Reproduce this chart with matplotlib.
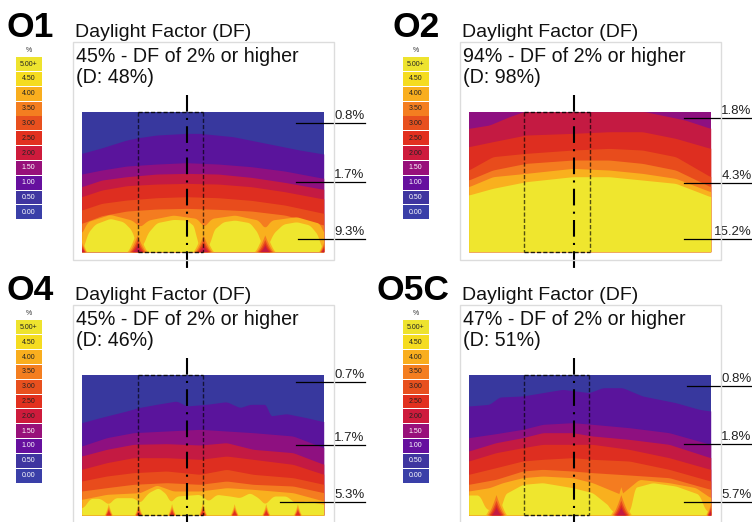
import numpy as np
import matplotlib
matplotlib.use("Agg")
import matplotlib.pyplot as plt
from matplotlib.patches import Rectangle

plt.rcParams['font.family'] = ['Liberation Sans', 'DejaVu Sans']

W, H = 752, 522

# ---- legend ----
LEGEND_LABELS = ["5.00+", "4.50", "4.00", "3.50", "3.00", "2.50", "2.00", "1.50", "1.00", "0.50", "0.00"]
LEGEND_COLORS = ["#EEE32E", "#F5DC20", "#F9AE1E", "#F47E20", "#E8501E", "#E2301F", "#CE1B3C",
                 "#98107A", "#66109E", "#3F35A0", "#3A3FA8"]

# ---- band colours, low to high ----
BLUE, INDIGO, MAGENTA, CRIMSON, RED, ORANGE_RED, ORANGE, AMBER, YELLOW = (
    "#38389E", "#5A149C", "#8E1080", "#C41A42", "#DE2E20", "#E84C1C", "#F47C20", "#F9B01E", "#EFE62E")

# ---- band upper limits: horizontal station, depth from the top of the plan ----
O1_X = [0, 60, 135, 225, 315, 410, 510, 610, 727]
O1_INDIGO_X = [0, 55, 135, 170, 225, 315, 355, 455, 555, 655, 727]
O1_INDIGO = [125, 110, 85, 78, 70, 65, 65, 75, 95, 115, 127]
O1_MAGENTA = [187, 175, 163, 157, 153, 157, 165, 178, 200]
O1_CRIMSON = [225, 205, 195, 187, 185, 187, 197, 212, 233]
O1_RED = [255, 235, 222, 217, 215, 217, 225, 240, 262]
O1_ORANGE_RED = [295, 275, 265, 258, 255, 258, 266, 280, 305]
O1_ORANGE = [335, 312, 298, 292, 290, 293, 298, 310, 340]
O1_AMBER_X = [0, 17, 85, 150, 175, 200, 275, 345, 367, 390, 460, 530, 550, 570, 645, 715, 727]
O1_AMBER = [365, 330, 308, 325, 345, 325, 310, 320, 345, 320, 310, 325, 350, 325, 315, 335, 365]
O1_YELLOW_X = [5, 17, 40, 85, 125, 150, 165, 185, 197, 225, 275, 315, 340, 347, 385, 395, 425, 460,
               505, 530, 540, 560, 575, 605, 645, 685, 710, 720]
O1_YELLOW = [410, 365, 337, 320, 330, 355, 400, 400, 365, 333, 323, 325, 345, 400, 400, 355, 330, 325,
             333, 365, 400, 400, 365, 337, 330, 340, 370, 410]
O1_NOTCH_X = [167, 365, 550, 0, 727]
O1_NOTCH_HALF = [32, 32, 32, 16, 16]
O1_NOTCH_DEPTH = [70, 70, 70, 40, 40]

O2_X = [0, 72, 172, 312, 422, 522, 622, 726]
O2_CRIMSON_X = [0, 62, 122, 165, 530, 650, 726]
O2_CRIMSON = [50, 40, 15, 0, 0, 25, 50]
O2_RED = [105, 90, 70, 65, 60, 60, 80, 110]
O2_ORANGE_RED = [175, 135, 125, 115, 110, 115, 135, 195]
O2_ORANGE = [205, 175, 155, 145, 145, 155, 175, 225]
O2_AMBER = [225, 195, 185, 170, 175, 185, 200, 240]
O2_YELLOW = [250, 230, 210, 195, 195, 205, 215, 255]

O4_X = [0, 75, 155, 255, 355, 435, 515, 635, 727]
O4_INDIGO_X = [0, 55, 135, 170, 225, 285, 315, 375, 435, 475, 505, 555, 565, 615, 675, 727]
O4_INDIGO = [143, 128, 108, 98, 88, 78, 93, 88, 80, 98, 88, 88, 123, 116, 128, 140]
O4_MAGENTA = [213, 188, 173, 168, 163, 168, 173, 183, 218]
O4_CRIMSON = [243, 223, 208, 206, 210, 203, 223, 233, 268]
O4_RED = [283, 263, 248, 248, 253, 243, 253, 268, 298]
O4_ORANGE_RED = [318, 303, 293, 288, 298, 283, 298, 308, 328]
O4_ORANGE = [348, 338, 328, 323, 328, 318, 328, 333, 353]
O4_AMBER_X = [0, 75, 175, 225, 275, 355, 435, 515, 635, 727]
O4_AMBER = [373, 358, 353, 330, 348, 348, 338, 343, 353, 378]
O4_YELLOW_X = [5, 25, 55, 80, 100, 155, 175, 200, 230, 255, 265, 285, 355, 380, 405, 445, 475, 505,
               530, 550, 575, 615, 640, 675, 727]
O4_YELLOW = [398, 370, 370, 388, 368, 368, 383, 353, 338, 358, 383, 363, 358, 378, 358, 363, 368, 353,
             368, 388, 363, 363, 383, 378, 388]
O4_NOTCH_X = [80, 170, 270, 363, 458, 553, 648]
O4_NOTCH_HALF = [13, 13, 13, 13, 13, 13, 13]
O4_NOTCH_DEPTH = [34, 34, 34, 40, 34, 34, 34]

O5_X = [0, 82, 162, 222, 312, 372, 482, 602, 726]
O5_INDIGO_X = [0, 62, 92, 162, 222, 282, 362, 402, 462, 522, 622, 692, 726]
O5_INDIGO = [93, 88, 66, 63, 53, 43, 53, 38, 38, 63, 83, 103, 108]
O5_MAGENTA = [188, 176, 163, 148, 143, 148, 158, 173, 208]
O5_CRIMSON = [228, 203, 188, 173, 173, 183, 193, 208, 248]
O5_RED = [258, 233, 218, 208, 208, 208, 223, 248, 283]
O5_ORANGE_RED = [298, 278, 258, 253, 248, 253, 258, 283, 318]
O5_ORANGE = [328, 313, 288, 283, 288, 293, 300, 308, 343]
O5_AMBER_X = [0, 62, 102, 162, 222, 312, 372, 457, 512, 602, 682, 726]
O5_AMBER = [348, 338, 323, 308, 303, 308, 323, 358, 313, 323, 338, 368]
O5_YELLOW_X = [0, 32, 52, 97, 107, 162, 222, 312, 372, 422, 427, 487, 497, 552, 622, 692, 712, 726]
O5_YELLOW = [360, 360, 403, 403, 358, 328, 323, 338, 353, 393, 408, 408, 338, 323, 333, 358, 408, 408]
O5_NOTCH_X = [82, 457, 726]
O5_NOTCH_HALF = [33, 33, 15]
O5_NOTCH_DEPTH = [85, 85, 45]

# ---- texts ----
O1_VALUES = ["0.8%", "1.7%", "9.3%"]
O2_VALUES = ["1.8%", "4.3%", "15.2%"]
O4_VALUES = ["0.7%", "1.7%", "5.3%"]
O5_VALUES = ["0.8%", "1.8%", "5.7%"]

PLAN_W, PLAN_D = 727, 420


def fx(px):
    return px / W


def fy(py):
    return 1 - py / H


fig = plt.figure(figsize=(W / 100, H / 100), dpi=100, facecolor="white")
XF = np.linspace(0, PLAN_W, 1455)


def band(ax, xs, depths, color):
    curve = np.interp(XF, xs, depths)
    k = 15
    padded = np.pad(curve, k, mode="edge")
    curve = np.convolve(padded, np.ones(2 * k + 1) / (2 * k + 1), mode="same")[k:-k]
    ax.fill_between(XF, curve, PLAN_D, color=color, linewidth=0)


def notches(ax, centers, halves, depths, colors):
    scales = [(1.0, 1.0), (0.85, 0.72), (0.72, 0.52), (0.6, 0.38), (0.46, 0.27)]
    for color, (sw, sd) in zip(colors, scales):
        for c, w, d in zip(centers, halves, depths):
            t = np.clip(1 - np.abs(XF - c) / (w * sw), 0, None) ** 1.4
            ax.fill_between(XF, PLAN_D - d * sd * t, PLAN_D, where=t > 0, color=color, linewidth=0)


def panel(name, name_x, base, top, legend_x, bands, note, values, leaders, frame_bottom,
          pct_line, d_line, window, centre, centre_end):
    y0 = top
    frame_top = y0 - 70
    fig.add_artist(Rectangle((fx(legend_x + 57), fy(frame_bottom)), 261 / W, (frame_bottom - frame_top) / H,
                             transform=fig.transFigure, fill=False, ec="#DCDCDC", lw=1))
    fig.text(fx(name_x), fy(y0 - 75), name, fontsize=25.5, fontweight="bold", color="black", va="baseline")
    tx = legend_x + 59.5
    fig.text(fx(tx), fy(y0 - 75), "Daylight Factor (DF)", fontsize=14.0, color="#111111", va="baseline")
    fig.text(fx(tx + 1), fy(y0 - 50), pct_line, fontsize=14.1, color="#111111", va="baseline")
    fig.text(fx(tx + 1), fy(y0 - 28.5), d_line, fontsize=14.1, color="#111111", va="baseline")

    # legend
    lax = fig.add_axes([fx(legend_x), fy(y0 + 108), 26 / W, 163 / H])
    pos = np.arange(len(LEGEND_LABELS))
    lax.barh(pos, [1] * len(pos), height=0.94, color=LEGEND_COLORS)
    for p, lab, col in zip(pos, LEGEND_LABELS, LEGEND_COLORS):
        lax.text(0.5, p, lab, ha="center", va="center", fontsize=5,
                 color="white" if p >= 7 else "#222222")
    lax.set_xlim(0, 1)
    lax.set_ylim(len(pos) - 0.5, -0.5)
    lax.axis("off")
    fig.text(fx(legend_x + 13), fy(y0 - 61.5), "%", fontsize=5, ha="center", va="center", color="#333333")

    # plan
    ax = fig.add_axes([fx(legend_x + 66), fy(y0 + 140), 242 / W, 140 / H])
    ax.set_xlim(0, PLAN_W)
    ax.set_ylim(PLAN_D, 0)
    ax.axis("off")
    ax.fill_between([0, PLAN_W], 0, PLAN_D, color=base, linewidth=0)
    for xs, ds, col in bands:
        band(ax, xs, ds, col)
    if note is not None:
        notches(ax, *note)

    # window rectangle, centre line, leaders
    ax.plot([window[0], window[1]], [0, 0], color="black", lw=1.0, ls=(0, (3, 1.5)), alpha=0.85, clip_on=False)
    ax.plot([window[0], window[1]], [PLAN_D, PLAN_D], color="black", lw=1.0, ls=(0, (3, 1.5)), alpha=0.85,
            clip_on=False)
    ax.plot([window[0], window[0]], [0, PLAN_D], color="black", lw=1.0, ls=(0, (3, 1.5)), alpha=0.65, clip_on=False)
    ax.plot([window[1], window[1]], [0, PLAN_D], color="black", lw=1.0, ls=(0, (3, 1.5)), alpha=0.65, clip_on=False)
    ax.plot([centre, centre], [-50, centre_end], color="black", lw=1.5,
            ls=(0, (8, 3, 1, 3)), clip_on=False)
    for (lx, d), v in zip(leaders, values):
        ax.plot([lx, 850], [d, d], color="black", lw=0.9, clip_on=False)
        ax.text(850, d - 3, v, ha="right", va="bottom", fontsize=9.5, color="#222222", clip_on=False)


panel("O1", 7, BLUE, 111.7, 15.7,
      [(O1_INDIGO_X, O1_INDIGO, INDIGO), (O1_X, O1_MAGENTA, MAGENTA), (O1_X, O1_CRIMSON, CRIMSON),
       (O1_X, O1_RED, RED), (O1_X, O1_ORANGE_RED, ORANGE_RED), (O1_X, O1_ORANGE, ORANGE),
       (O1_AMBER_X, O1_AMBER, AMBER), (O1_YELLOW_X, O1_YELLOW, YELLOW)],
      (O1_NOTCH_X, O1_NOTCH_HALF, O1_NOTCH_DEPTH, [AMBER, ORANGE, ORANGE_RED, RED, CRIMSON]),
      O1_VALUES, [(645, 33), (645, 210), (650, 383)], 260,
      "45% - DF of 2% or higher", "(D: 48%)", (168, 365), 317, 483)

panel("O2", 393, MAGENTA, 111.7, 402.7,
      [(O2_CRIMSON_X, O2_CRIMSON, CRIMSON), (O2_X, O2_RED, RED), (O2_X, O2_ORANGE_RED, ORANGE_RED),
       (O2_X, O2_ORANGE, ORANGE), (O2_X, O2_AMBER, AMBER), (O2_X, O2_YELLOW, YELLOW)],
      None,
      O2_VALUES, [(647, 20), (647, 213), (647, 383)], 260,
      "94% - DF of 2% or higher", "(D: 98%)", (167, 364), 315, 483)

panel("O4", 7, BLUE, 375, 15.7,
      [(O4_INDIGO_X, O4_INDIGO, INDIGO), (O4_X, O4_MAGENTA, MAGENTA), (O4_X, O4_CRIMSON, CRIMSON),
       (O4_X, O4_RED, RED), (O4_X, O4_ORANGE_RED, ORANGE_RED), (O4_X, O4_ORANGE, ORANGE),
       (O4_AMBER_X, O4_AMBER, AMBER), (O4_YELLOW_X, O4_YELLOW, YELLOW)],
      (O4_NOTCH_X, O4_NOTCH_HALF, O4_NOTCH_DEPTH, [AMBER, ORANGE, ORANGE_RED, RED]),
      O4_VALUES, [(645, 20), (645, 211), (595, 381)], 530,
      "45% - DF of 2% or higher", "(D: 46%)", (168, 365), 317, 460)

panel("O5C", 376, BLUE, 375, 402.7,
      [(O5_INDIGO_X, O5_INDIGO, INDIGO), (O5_X, O5_MAGENTA, MAGENTA), (O5_X, O5_CRIMSON, CRIMSON),
       (O5_X, O5_RED, RED), (O5_X, O5_ORANGE_RED, ORANGE_RED), (O5_X, O5_ORANGE, ORANGE),
       (O5_AMBER_X, O5_AMBER, AMBER), (O5_YELLOW_X, O5_YELLOW, YELLOW)],
      (O5_NOTCH_X, O5_NOTCH_HALF, O5_NOTCH_DEPTH, [AMBER, ORANGE, ORANGE_RED, RED, CRIMSON]),
      O5_VALUES, [(657, 34), (647, 207), (647, 382)], 530,
      "47% - DF of 2% or higher", "(D: 51%)", (167, 362), 315, 460)

fig.savefig("out.png", dpi=100, facecolor="white")
